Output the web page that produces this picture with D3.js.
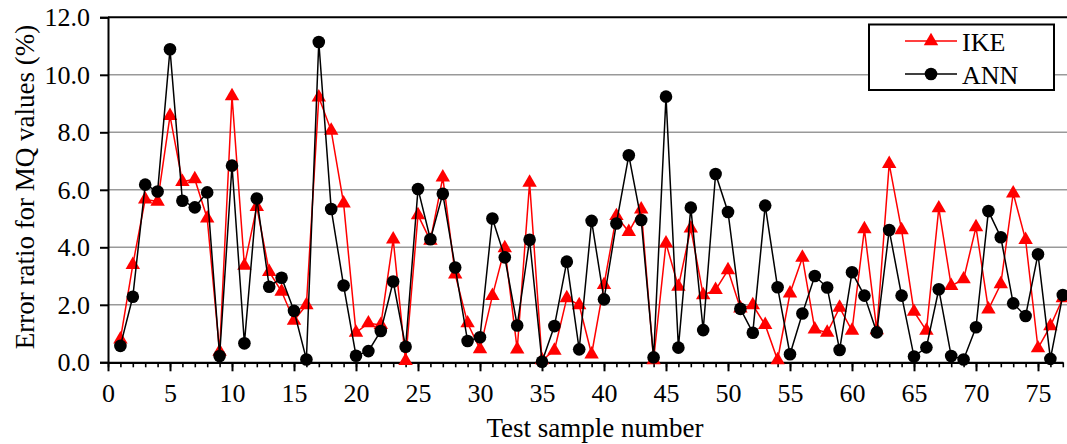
<!DOCTYPE html>
<html><head><meta charset="utf-8">
<script src="https://cdn.jsdelivr.net/npm/d3@7"></script>
<style>body{margin:0;background:#fff}svg{display:block}svg text{font-family:"Liberation Serif","Times New Roman",serif !important;fill:#000}</style>
</head><body>
<svg id="c" width="1067" height="444"></svg>
<script>
const samples = d3.range(1, 78);
const ike = [0.8,3.39,5.67,5.59,8.57,6.28,6.37,5.01,0.37,9.26,3.36,5.41,3.15,2.46,1.45,1.99,9.22,8.06,5.53,1.03,
  1.36,1.30,4.28,0.05,5.12,4.23,6.43,3.06,1.36,0.46,2.31,3.97,0.45,6.25,0.08,0.41,2.23,1.99,0.28,2.69,
  5.09,4.54,5.32,0.08,4.14,2.63,4.66,2.34,2.52,3.21,1.88,1.99,1.30,0.08,2.40,3.64,1.15,1.03,1.90,1.10,
  4.63,1.12,6.90,4.60,1.76,1.10,5.36,2.66,2.89,4.70,1.84,2.72,5.88,4.26,0.49,1.26,2.23];
const ann = [0.57,2.28,6.18,5.94,10.89,5.62,5.39,5.91,0.22,6.84,0.66,5.70,2.63,2.94,1.79,0.10,11.14,5.33,2.67,0.23,
  0.39,1.09,2.81,0.54,6.03,4.28,5.86,3.30,0.74,0.87,5.0,3.65,1.28,4.26,0.02,1.26,3.50,0.45,4.92,2.19,
  4.83,7.20,4.95,0.17,9.24,0.51,5.38,1.12,6.55,5.23,1.86,1.03,5.45,2.61,0.28,1.70,3.0,2.60,0.43,3.13,
  2.32,1.04,4.60,2.32,0.20,0.52,2.54,0.22,0.10,1.22,5.26,4.35,2.05,1.61,3.76,0.12,2.34];
const yTicks = [0,2,4,6,8,10,12];
const xTicks = [0,5,10,15,20,25,30,35,40,45,50,55,60,65,70,75];
const seriesNames = ["IKE","ANN"];

const FONT = '"Liberation Serif","Times New Roman",serif';
const svg = d3.select("#c");
const x = d3.scaleLinear().domain([0,77]).range([108,1062.8]);
const y = d3.scaleLinear().domain([0,12]).range([362.3,17.3]);

// gridlines
svg.append("g").selectAll("line").data(yTicks.filter(d=>d>0&&d<12)).join("line")
  .attr("x1",108).attr("x2",1067).attr("y1",d=>y(d)).attr("y2",d=>y(d))
  .attr("stroke","#999").attr("stroke-width",1.6);
// top border
svg.append("line").attr("x1",108).attr("x2",1067).attr("y1",y(12)).attr("y2",y(12))
  .attr("stroke","#000").attr("stroke-width",2);

// y axis
const ya = svg.append("g").attr("transform","translate(108,0)")
  .call(d3.axisLeft(y).tickValues(yTicks).tickSize(8).tickFormat(d3.format(".1f")).tickPadding(10));
ya.attr("font-family",FONT).attr("font-size",26);
ya.select(".domain").attr("stroke","#000").attr("stroke-width",2);
ya.selectAll(".tick line").attr("stroke","#000").attr("stroke-width",2);
ya.selectAll(".tick text").style("font-family",FONT).style("font-size","26px").attr("fill","#000");

// x axis minor
const xa2 = svg.append("g").attr("transform",`translate(0,${y(0)})`)
  .call(d3.axisBottom(x).tickValues(d3.range(0,78)).tickSize(5).tickFormat(""));
xa2.select(".domain").remove();
xa2.selectAll(".tick line").attr("stroke","#000").attr("stroke-width",1.6);
const xa = svg.append("g").attr("transform",`translate(0,${y(0)})`)
  .call(d3.axisBottom(x).tickValues(xTicks).tickSize(9).tickSizeOuter(0).tickPadding(12));
xa.attr("font-family",FONT).attr("font-size",26);
xa.select(".domain").attr("stroke","#000").attr("stroke-width",2.2);
xa.selectAll(".tick line").attr("stroke","#000").attr("stroke-width",2);
xa.selectAll(".tick text").style("font-family",FONT).style("font-size","26px").attr("fill","#000");

// titles
svg.append("text").attr("x",595).attr("y",437).attr("text-anchor","middle").style("font-size","27px").style("font-family",FONT).text("Test sample number");
svg.append("text").attr("transform","translate(34,187) rotate(-90)").attr("text-anchor","middle").style("font-size","27px").style("font-family",FONT).text("Error ratio for MQ values (%)");

const line = d3.line().x((d,i)=>x(samples[i])).y(d=>y(d));
const tri = d3.symbol().type(d3.symbolTriangle).size(90);

// IKE
svg.append("path").datum(ike).attr("d",line).attr("fill","none").attr("stroke","#ff0000").attr("stroke-width",1.5);
svg.append("g").selectAll("path").data(ike).join("path")
  .attr("d",tri).attr("transform",(d,i)=>`translate(${x(samples[i])},${y(d)})`).attr("fill","#ff0000");
// ANN
svg.append("path").datum(ann).attr("d",line).attr("fill","none").attr("stroke","#000").attr("stroke-width",1.5);
svg.append("g").selectAll("circle").data(ann).join("circle")
  .attr("cx",(d,i)=>x(samples[i])).attr("cy",d=>y(d)).attr("r",6.3).attr("fill","#000");

// legend
const lg = svg.append("g");
lg.append("rect").attr("x",869).attr("y",24.5).attr("width",185).attr("height",65.5)
  .attr("fill","#fff").attr("stroke","#000").attr("stroke-width",2);
const rows = [{name:seriesNames[0],color:"#ff0000",y:41},{name:seriesNames[1],color:"#000",y:74}];
rows.forEach((r,i)=>{
  lg.append("line").attr("x1",905).attr("x2",957).attr("y1",r.y).attr("y2",r.y).attr("stroke",r.color).attr("stroke-width",1.5);
  if(i===0) lg.append("path").attr("d",tri).attr("transform",`translate(931,${r.y})`).attr("fill",r.color);
  else lg.append("circle").attr("cx",931).attr("cy",r.y).attr("r",6.3).attr("fill",r.color);
  lg.append("text").attr("x",962).attr("y",r.y+9.5).style("font-size","26px").style("font-family",FONT).text(r.name);
});
</script>
</body></html>
